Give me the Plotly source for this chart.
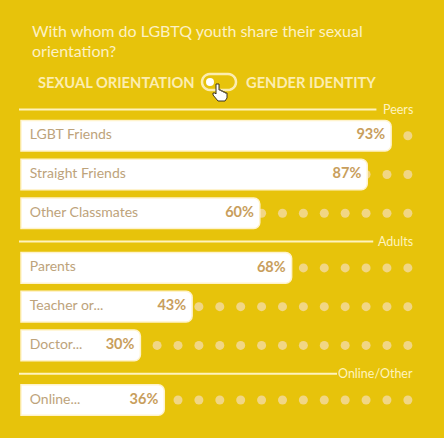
import numpy as np
from plotly import graph_objects as go

# data
groups = ["Peers", "Peers", "Peers", "Adults", "Adults", "Adults", "Online/Other"]
labels = ["LGBT Friends", "Straight Friends", "Other Classmates",
          "Parents", "Teacher or...", "Doctor...", "Online..."]
values = [93, 87, 60, 68, 43, 30, 36]
group_names = ["Peers", "Adults", "Online/Other"]

title_lines = ["With whom do LGBTQ youth share their sexual", "orientation?"]
toggle_left = "SEXUAL ORIENTATION"
toggle_right = "GENDER IDENTITY"

BG = "#E7C30B"
CREAM = "#FDF1C4"
LABEL = "#BDA37B"
VALUE = "#C89E5C"
DOT = "#F1D685"
LINE = "#FFF3BE"

# row positions: one unit per row, an extra gap between groups
GAP = 0.41
ypos = []
g = -1
prev = None
for i, grp in enumerate(groups):
    if grp != prev:
        g += 1
        prev = grp
    ypos.append(i + g * GAP)

# where the header line stops, so the group name fits at the right
line_end = {"Peers": 89.3, "Adults": 88.5, "Online/Other": 79.4}

xr = [-0.5, 106.28]
yr = [7.8, -1.0]
L, T, PW, PH = 19, 97, 425, 341


def px(x):
    return (x - L) / PW


def py(y):
    return 1 + (T - y) / PH


def pix_path(points):
    # points are (dx, dy) in screen pixels, dy downwards
    return "M " + " L ".join(f"{dx:.2f},{-dy:.2f}" for dx, dy in points) + " Z"


fig = go.Figure()

# dotted track behind the bars (base axes)
dot_x = np.arange(97.2, 0, -5.25)
for y in ypos:
    fig.add_trace(go.Scatter(x=dot_x, y=[y] * len(dot_x), mode="markers",
                             marker=dict(size=9, color=DOT),
                             hoverinfo="skip", showlegend=False))

# bars on an overlaying pair of axes so they sit above the dots
fig.add_trace(go.Bar(x=values, y=ypos, orientation="h", width=0.79,
                     marker=dict(color="#FFFFFF",
                                 line=dict(color="#FFF3CC", width=1.5)),
                     hoverinfo="skip", showlegend=False,
                     xaxis="x2", yaxis="y2"))

fig.add_trace(go.Scatter(x=[2.2] * len(labels), y=ypos, mode="text",
                         text=labels, textposition="middle right",
                         textfont=dict(family="Lato", size=14, color=LABEL),
                         hoverinfo="skip", showlegend=False,
                         xaxis="x2", yaxis="y2"))

fig.add_trace(go.Scatter(x=[v - 1.5 for v in values], y=ypos, mode="text",
                         text=[f"<b>{v}%</b>" for v in values],
                         textposition="middle left",
                         textfont=dict(family="Lato", size=14.5, color=VALUE),
                         hoverinfo="skip", showlegend=False,
                         xaxis="x2", yaxis="y2"))

# group header lines and names
shapes = []
annotations = []
for name in group_names:
    first = ypos[groups.index(name)]
    yl = first - 0.68
    shapes.append(dict(type="line", xref="x", yref="y", x0=-0.5, x1=line_end[name],
                       y0=yl, y1=yl, line=dict(color=LINE, width=2)))
    annotations.append(dict(x=px(415), xref="paper", xanchor="right",
                            y=yl, yref="y", yanchor="middle", text=name,
                            showarrow=False,
                            font=dict(family="Lato", size=12.5, color=LINE)))

# title and toggle
for k, line in enumerate(title_lines):
    annotations.append(dict(x=px(30), xref="paper", xanchor="left",
                            y=py(31 + 19.5 * k), yref="paper",
                            yanchor="middle", text=line, showarrow=False,
                            font=dict(family="Lato", size=16, color=CREAM)))
annotations.append(dict(x=px(36), xref="paper", xanchor="left",
                        y=py(82), yref="paper", yanchor="middle",
                        text="<b>" + toggle_left + "</b>", showarrow=False,
                        font=dict(family="Lato", size=14.7, color="#FCEDB0")))
annotations.append(dict(x=px(244), xref="paper", xanchor="left",
                        y=py(82), yref="paper", yanchor="middle",
                        text="<b>" + toggle_right + "</b>", showarrow=False,
                        font=dict(family="Lato", size=14.7, color="#FCEDB0")))

# toggle pill (two half circles joined by straight edges) and its knob
ang = np.linspace(-np.pi / 2, np.pi / 2, 13)
right = [(9 + 8 * np.cos(a), 8 * np.sin(a)) for a in ang]
left = [(-9 - 8 * np.cos(a), -8 * np.sin(a)) for a in ang]
shapes.append(dict(type="path", xref="paper", yref="paper",
                   xsizemode="pixel", ysizemode="pixel",
                   xanchor=px(219), yanchor=py(82), path=pix_path(right + left),
                   line=dict(color="#FCEDB0", width=2.5), fillcolor="rgba(0,0,0,0)"))
shapes.append(dict(type="circle", xref="paper", yref="paper",
                   xsizemode="pixel", ysizemode="pixel",
                   xanchor=px(210), yanchor=py(82),
                   x0=-4, x1=4, y0=-4, y1=4,
                   line=dict(width=0), fillcolor="#FFFFFF"))

# pointer cursor over the toggle
hand = [(0, 0), (3, 0), (3, 6), (5, 6), (5, 7), (7, 7), (7, 8), (9, 8), (9, 9),
        (11, 9), (11, 14), (9, 17), (2, 17), (-3, 11), (-3, 9), (-1, 9), (0, 10)]
shapes.append(dict(type="path", xref="paper", yref="paper",
                   xsizemode="pixel", ysizemode="pixel",
                   xanchor=px(216), yanchor=py(84), path=pix_path(hand),
                   line=dict(color="#3A3320", width=1), fillcolor="#FFFFFF"))

axis_common = dict(showgrid=False, zeroline=False, showticklabels=False,
                   showline=False, fixedrange=True)
fig.update_layout(
    width=444, height=438,
    margin=dict(l=L, r=0, t=T, b=0),
    paper_bgcolor=BG, plot_bgcolor=BG,
    font=dict(family="Lato"),
    xaxis=dict(range=xr, **axis_common),
    yaxis=dict(range=yr, **axis_common),
    xaxis2=dict(range=xr, overlaying="x", **axis_common),
    yaxis2=dict(range=yr, overlaying="y", **axis_common),
    barcornerradius=6,
    shapes=shapes,
    annotations=annotations,
)

fig.write_html("out.html", config={"displayModeBar": False})

# drop the page's default body margin so the figure fills the window
with open("out.html", encoding="utf-8") as f:
    page = f.read()
page = page.replace("<head>", "<head><style>html,body{margin:0;padding:0;overflow:hidden}</style>", 1)
with open("out.html", "w", encoding="utf-8") as f:
    f.write(page)
